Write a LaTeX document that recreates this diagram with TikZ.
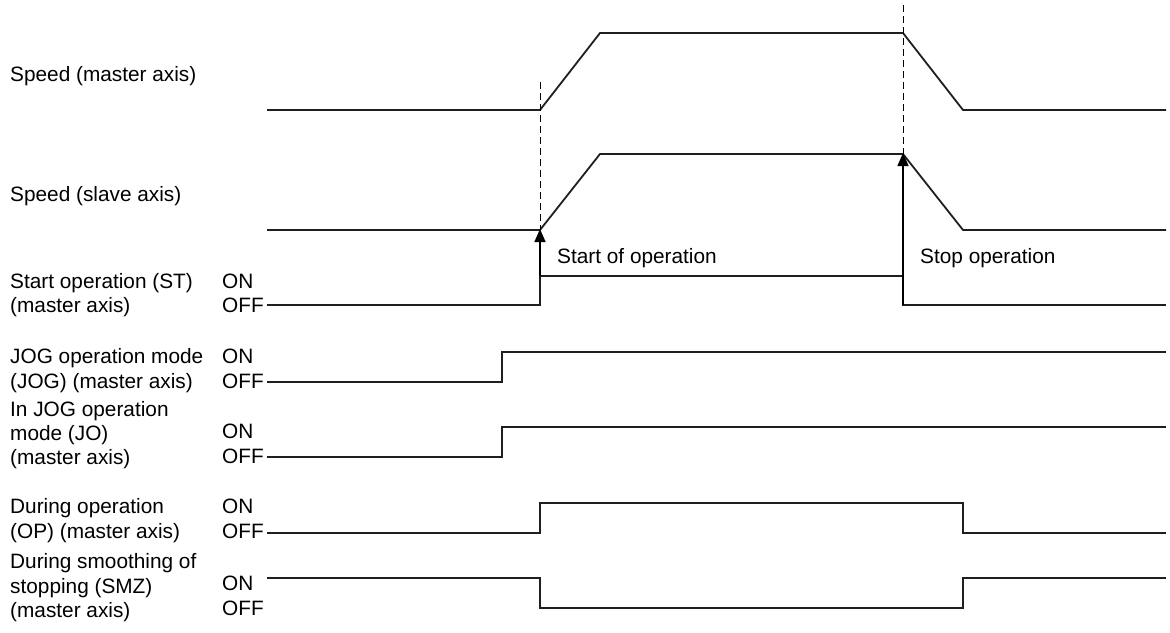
\documentclass[tikz,border=0pt]{standalone}
\usepackage{fontspec}
\setmainfont{Liberation Sans}
\usetikzlibrary{arrows.meta}
\begin{document}
\begin{tikzpicture}[x=1pt,y=-1pt,
  lbl/.style={anchor=base west,inner sep=0pt,font=\fontsize{20.8}{24}\selectfont},
  sig/.style={line width=1.8pt,line join=miter,color=black!88},
  vdash/.style={line width=1pt,dash pattern=on 7pt off 4pt},
  arr/.style={line width=1.5pt,-{Triangle[width=11pt,length=13pt]}}]
\useasboundingbox (0,0) rectangle (1170,632);
% left labels
\node[lbl] (lm) at (10,81.5) {Speed (master axis)};
\node[lbl] (ls) at (10,201.5) {Speed (slave axis)};
\node[lbl] (lst1) at (10,288) {Start operation (ST)};
\node[lbl] (lst2) at (10,312) {(master axis)};
\node[lbl] (ljog1) at (10,363) {JOG operation mode};
\node[lbl] (ljog2) at (10,388) {(JOG) (master axis)};
\node[lbl] (ljo1) at (10,416) {In JOG operation};
\node[lbl] (ljo2) at (10,440) {mode (JO)};
\node[lbl] (ljo3) at (10,464) {(master axis)};
\node[lbl] (lop1) at (10,513) {During operation};
\node[lbl] (lop2) at (10,538) {(OP) (master axis)};
\node[lbl] (lsmz1) at (10,568) {During smoothing of};
\node[lbl] (lsmz2) at (10,593) {stopping (SMZ)};
\node[lbl] (lsmz3) at (10,617) {(master axis)};
% ON / OFF
\node[lbl] (ston) at (222,288) {ON};
\node[lbl] (stoff) at (222,312) {OFF};
\node[lbl] (jogon) at (222,363) {ON};
\node[lbl] (jogoff) at (222,388) {OFF};
\node[lbl] (joon) at (222,438) {ON};
\node[lbl] (jooff) at (222,463) {OFF};
\node[lbl] (opon) at (222,513) {ON};
\node[lbl] (opoff) at (222,538) {OFF};
\node[lbl] (smzon) at (222,590) {ON};
\node[lbl] (smzoff) at (222,615) {OFF};
% key coordinates
\coordinate (mA) at (540,110);
\coordinate (mB) at (600,33);
\coordinate (mC) at (903,33);
\coordinate (mD) at (963,110);
\coordinate (sA) at (540,230);
\coordinate (sB) at (600,154);
\coordinate (sC) at (903,154);
\coordinate (sD) at (963,230);
\coordinate (stR) at (540,276);
\coordinate (stF) at (903,305);
\coordinate (dTop1) at (540,82);
\coordinate (dTop2) at (903,5);
% speed waveforms
\draw[sig] (267,110) -- (mA) -- (mB) -- (mC) -- (mD) -- (1166,110);
\draw[sig] (267,230) -- (sA) -- (sB) -- (sC) -- (sD) -- (1166,230);
% dashed guides
\draw[vdash] (dTop1) -- (sA);
\draw[vdash] (dTop2) -- (sC);
% ST
\draw[sig] (267,305) -- (540,305) -- (stR) -- (903,276) -- (stF) -- (1166,305);
% arrows
\draw[arr] (stR) -- ([yshift=1pt]sA);
\draw[arr] (stF) -- ([yshift=1pt]sC);
\node[lbl] (tstart) at (557,263) {Start of operation};
\node[lbl] (tstop) at (920,263) {Stop operation};
% JOG
\draw[sig] (267,382) -- (502,382) -- (502,352) -- (1166,352);
% JO
\draw[sig] (267,457) -- (502,457) -- (502,427) -- (1166,427);
% OP
\draw[sig] (267,533) -- (540,533) -- (540,503) -- (963,503) -- (963,533) -- (1166,533);
% SMZ
\draw[sig] (267,578) -- (540,578) -- (540,608) -- (963,608) -- (963,578) -- (1166,578);
\end{tikzpicture}
\end{document}
